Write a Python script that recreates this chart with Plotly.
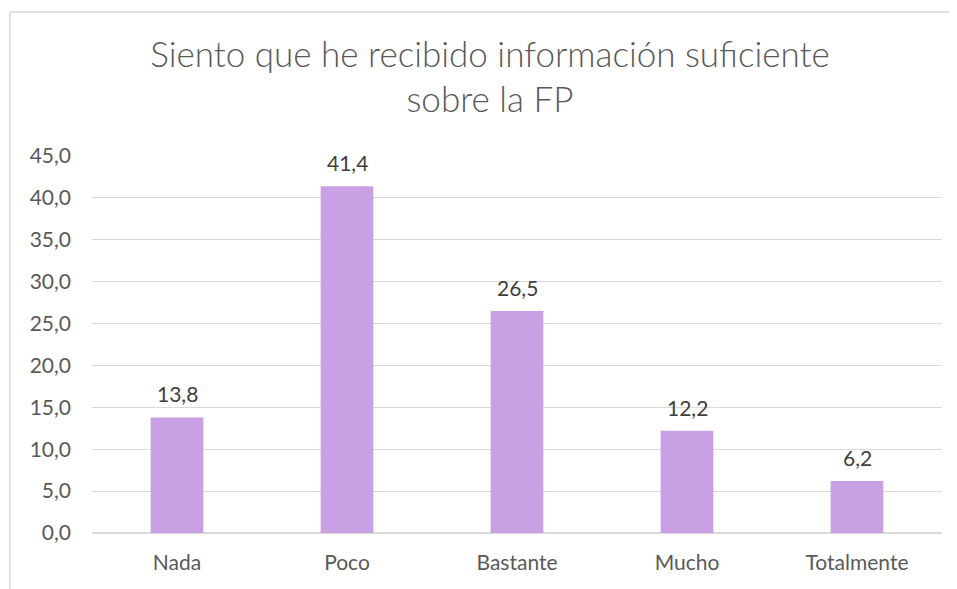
import plotly.graph_objects as go

# Datos
categorias = ["Nada", "Poco", "Bastante", "Mucho", "Totalmente"]
valores = [13.8, 41.4, 26.5, 12.2, 6.2]
titulo = "Siento que he recibido información suficiente<br>sobre la FP"

fuente = "Lato, 'Open Sans', sans-serif"
gris = "#595959"

fig = go.Figure()

fig.add_trace(go.Bar(x=categorias,
                     y=valores,
                     marker=dict(color="#C9A0E3", line=dict(width=0)),
                     hoverinfo="x+y"))

# Etiquetas de datos encima de cada barra
for c, v in zip(categorias, valores):
    fig.add_annotation(x=c, y=v, text=f"{v:.1f}".replace(".", ","),
                       showarrow=False, yanchor="bottom", yshift=9,
                       font=dict(family=fuente, size=21, color="#404040"))

# Marco del gráfico (solo bordes izquierdo y superior visibles)
borde = dict(color="#D9D9D9", width=1.5)
fig.add_shape(type="line", xref="paper", yref="paper",
              x0=-0.0965, x1=-0.0965, y0=-0.3, y1=1.382,
              line=borde, layer="below")
fig.add_shape(type="line", xref="paper", yref="paper",
              x0=-0.0965, x1=1.2, y0=1.382, y1=1.382,
              line=borde, layer="below")

fig.update_layout(title=dict(text=titulo, x=0.5079, xanchor="center",
                             y=0.8986, yanchor="top",
                             font=dict(family=fuente, size=35, color=gris,
                                       weight=300)),
                  separators=",.",
                  width=949,
                  height=581,
                  margin=dict(l=84, r=15, t=148, b=56),
                  plot_bgcolor="white",
                  paper_bgcolor="white",
                  bargap=0.69,
                  showlegend=False,
                  font=dict(family=fuente, size=21, color=gris),
                  xaxis=dict(showgrid=False, showline=False, ticks="",
                             ticklabelstandoff=15),
                  yaxis=dict(range=[0, 45], dtick=5, tickformat=".1f",
                             showgrid=True, gridcolor="#D9D9D9", gridwidth=1,
                             zeroline=True, zerolinecolor="#D9D9D9",
                             zerolinewidth=1.5, showline=False, ticks="",
                             ticklabelstandoff=20))

fig.write_html("out.html")
